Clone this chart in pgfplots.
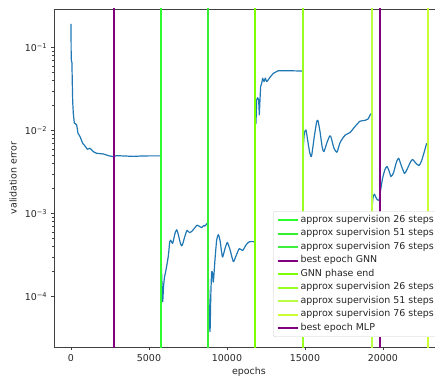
\documentclass[border=0pt]{standalone}
\usepackage{pgfplots}
\pgfplotsset{compat=1.18}
\usepackage{fontspec}
\setmainfont{DejaVu Sans}
\definecolor{mplblue}{HTML}{1F77B4}
\definecolor{mpurple}{HTML}{800080}
\definecolor{gA}{HTML}{2EFF2E}
\definecolor{gB}{HTML}{33F033}
\definecolor{gC}{HTML}{3CF03C}
\definecolor{gEnd}{HTML}{7CFF00}
\definecolor{mA}{HTML}{99FF22}
\definecolor{mB}{HTML}{BBFF44}
\definecolor{mC}{HTML}{CCFF33}
\definecolor{txt}{HTML}{262626}
\definecolor{spine}{HTML}{404040}
\begin{document}
\begin{tikzpicture}
\useasboundingbox (0,0) rectangle (435bp,381bp);
\clip (0,0) rectangle (435bp,381bp);
\begin{axis}[
  at={(54bp,34bp)}, anchor=south west,
  scale only axis, width=389.8bp, height=338bp,
  xmin=-1090, xmax=23900,
  ymode=log, ymin=2.48e-5, ymax=0.292,
  scaled x ticks=false,
  axis line style={spine, line width=0.76bp},
  every tick/.style={spine, line width=0.76bp},
  tick align=outside,
  major tick length=3.3bp, minor tick length=1.9bp,
  xtick pos=bottom, ytick pos=left,
  xtick={0,5000,10000,15000,20000},
  xticklabels={0,5000,10000,15000,20000},
  ytick={1e-4,1e-3,1e-2,1e-1},
  yticklabels={{10\textsuperscript{−4}},{10\textsuperscript{−3}},{10\textsuperscript{−2}},{10\textsuperscript{−1}}},
  tick label style={font=\fontsize{9.5}{11}\selectfont, text=txt},
  xticklabel style={yshift=-1bp},
  xlabel={epochs}, ylabel={validation error},
  label style={font=\fontsize{9.5}{11}\selectfont, text=txt},
  xlabel style={at={(axis description cs:0.5,-0.074)}, anchor=center},
  ylabel style={at={(axis description cs:-0.105,0.5)}, anchor=center},
  legend image code/.code={\draw[#1] (0bp,0bp) -- (20bp,0bp);},
  legend cell align=left,
  legend style={at={(axis description cs:0.9877,0.0296)}, anchor=south east,
    font=\fontsize{9.5}{11}\selectfont, text=txt,
    draw=black!20, rounded corners=2bp, fill=white,
    inner xsep=3bp, inner ysep=2bp, row sep=0bp,
    nodes={inner xsep=2bp, inner ysep=0bp, text height=9bp, text depth=4.5bp}},
  vline/.style={draw=#1, line width=2bp, line cap=butt},
  curve/.style={mplblue, line width=1.2bp, line join=round, forget plot},
]
\addplot[curve] coordinates {
(0,0.193) (12,0.075) (35,0.068) (60,0.066) (80,0.040) (110,0.022) (150,0.016) (214,0.0123)
(300,0.0121) (363,0.0117) (449,0.0093) (577,0.0085) (748,0.00705) (897,0.00654) (1047,0.00597)
(1218,0.00614) (1432,0.00559) (1645,0.00534) (2073,0.00524) (2400,0.0050) (2714,0.00486)
(2900,0.0050) (3500,0.00495) (4000,0.00490) (4500,0.00495) (5000,0.00497) (5769,0.00497)
};
\addplot[curve, smooth, tension=0.35] coordinates {
(5769,3.0e-4) (5830,1.5e-4) (5876,8.7e-5) (5930,1.3e-4) (5990,1.7e-4) (6090,2.1e-4) (6239,3.1e-4)
(6330,4.6e-4) (6389,4.8e-4) (6517,4.4e-4) (6667,5.8e-4) (6780,6.4e-4) (6880,5.6e-4) (6987,4.6e-4)
(7080,4.1e-4) (7158,4.3e-4) (7308,5.4e-4) (7440,6.3e-4) (7600,5.9e-4) (7735,6.1e-4) (7949,6.8e-4)
(8080,7.3e-4) (8200,7.1e-4) (8376,6.8e-4) (8500,7.2e-4) (8590,7.1e-4) (8739,7.7e-4) (8782,7.7e-4)
};
\addplot[curve, smooth, tension=0.35] coordinates {
(8782,3.0e-4) (8825,1.2e-4) (8910,3.8e-5) (8960,1.0e-4) (9017,2.0e-4) (9070,1.9e-4) (9124,1.5e-4)
(9231,2.8e-4) (9338,4.8e-4) (9444,5.6e-4) (9551,4.8e-4) (9650,3.5e-4) (9722,3.0e-4) (9872,3.8e-4)
(10021,4.5e-4) (10192,3.7e-4) (10406,2.65e-4) (10577,3.1e-4) (10790,3.8e-4) (11004,3.6e-4)
(11218,4.2e-4) (11432,4.6e-4) (11731,4.6e-4) (11814,4.6e-4)
};
\addplot[curve] coordinates {
(11814,0.012) (11859,0.0123) (11902,0.0234) (11966,0.025) (12030,0.0234) (12073,0.0155)
(12115,0.0234) (12158,0.0339) (12222,0.037) (12286,0.0428) (12372,0.039) (12457,0.043)
(12543,0.039) (12650,0.041) (12756,0.044) (12970,0.049) (13291,0.0528) (13825,0.0528)
(14359,0.0525) (14829,0.0523) (14853,0.052)
};
\addplot[curve, smooth, tension=0.35] coordinates {
(14853,0.0064) (14893,0.0064) (14957,0.0093) (15064,0.0102) (15171,0.0077) (15300,0.0055)
(15417,0.0049) (15598,0.0085) (15750,0.0128) (15833,0.0132) (15962,0.0098) (16111,0.0062)
(16218,0.0056) (16400,0.0071) (16580,0.0086) (16667,0.0084) (16850,0.0062) (17051,0.0055)
(17250,0.0072) (17564,0.0088) (17885,0.0095) (18205,0.0112) (18526,0.0130) (18846,0.0133)
(19038,0.0138) (19212,0.0159) (19276,0.0159)
};
\addplot[curve, smooth, tension=0.35] coordinates {
(19276,1.0e-3) (19359,1.55e-3) (19455,1.72e-3) (19583,1.52e-3) (19744,1.45e-3) (19853,1.95e-3)
(19981,2.7e-3) (20128,3.4e-3) (20256,3.7e-3) (20385,3.3e-3) (20513,2.8e-3) (20673,3.1e-3)
(20865,4.2e-3) (21006,4.65e-3) (21154,3.9e-3) (21378,3.05e-3) (21538,3.4e-3) (21763,4.2e-3)
(21904,4.5e-3) (22083,4.1e-3) (22308,3.8e-3) (22468,4.3e-3) (22628,5.4e-3) (22801,7.05e-3)
};
\addplot[vline=gA] coordinates {(5769,1e-6) (5769,10)};
\addlegendentry{approx supervision 26 steps}
\addplot[vline=gB] coordinates {(8782,1e-6) (8782,10)};
\addlegendentry{approx supervision 51 steps}
\addplot[vline=gC] coordinates {(11814,1e-6) (11814,10)};
\addlegendentry{approx supervision 76 steps}
\addplot[vline=mpurple] coordinates {(2756,1e-6) (2756,10)};
\addlegendentry{best epoch GNN}
\addplot[vline=gEnd] coordinates {(11814,1e-6) (11814,10)};
\addlegendentry{GNN phase end}
\addplot[vline=mA] coordinates {(14853,1e-6) (14853,10)};
\addlegendentry{approx supervision 26 steps}
\addplot[vline=mB] coordinates {(19276,1e-6) (19276,10)};
\addlegendentry{approx supervision 51 steps}
\addplot[vline=mC] coordinates {(22865,1e-6) (22865,10)};
\addlegendentry{approx supervision 76 steps}
\addplot[vline=mpurple] coordinates {(19827,1e-6) (19827,10)};
\addlegendentry{best epoch MLP}
\end{axis}
\end{tikzpicture}
\end{document}
